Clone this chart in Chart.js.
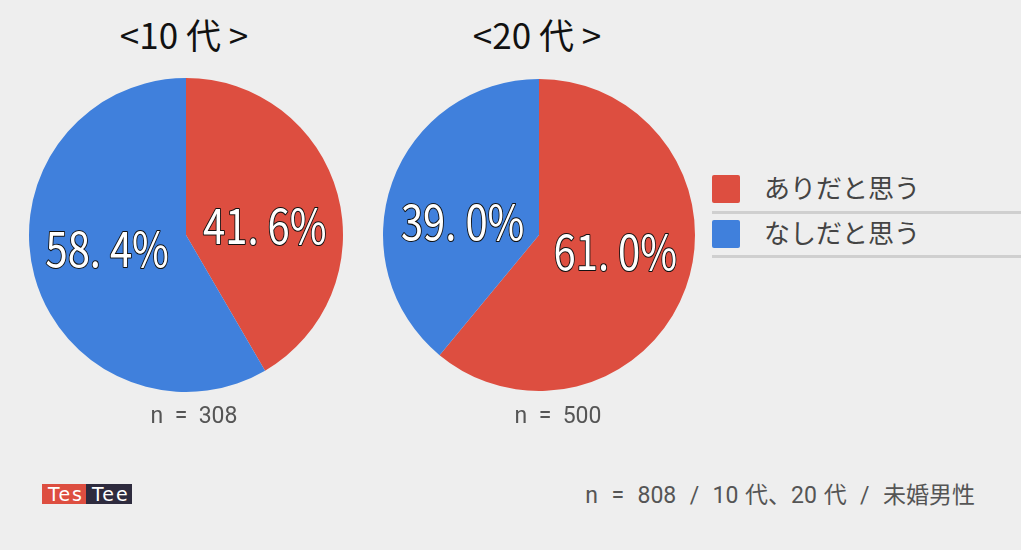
<!DOCTYPE html>
<html lang="ja">
<head>
<meta charset="utf-8">
<script src="https://cdn.jsdelivr.net/npm/chart.js@4/dist/chart.umd.min.js"></script>
<style>
  html, body { margin: 0; padding: 0; }
  body {
    width: 1021px; height: 550px; background: #eeeeee; position: relative; overflow: hidden;
    font-family: "Noto Sans CJK JP", "Noto Sans", sans-serif;
  }
  .pie-box { position: absolute; width: 340px; height: 340px; top: 65px; }
  .title { position: absolute; top: 8px; width: 300px; text-align: center; font-size: 35px; color: #111; }
  .nlabel { position: absolute; top: 402px; width: 200px; text-align: center; font-size: 23px; color: #555; font-family: Roboto, "Noto Sans CJK JP", sans-serif; white-space: pre; }
  .legend { position: absolute; left: 712px; top: 172px; width: 309px; }
  .legend-item { position: relative; border-bottom: 3px solid #cfcfcf; }
  .legend-item .sw { position: absolute; left: 0; width: 28px; height: 28px; border-radius: 2px; }
  .legend-item .tx { position: absolute; left: 52px; font-size: 26px; color: #444; }
  .logo { position: absolute; left: 42px; top: 484px; height: 20px; display: flex; font-family: "DejaVu Sans", sans-serif; font-size: 19px; line-height: 20px; color: #fff; letter-spacing: 2px; }
  .logo span { padding: 0 2px 0 6px; }
  .foot { position: absolute; right: 46px; top: 476px; font-size: 23px; color: #555; font-family: Roboto, "Noto Sans CJK JP", sans-serif; white-space: pre; word-spacing: 1px; }
</style>
</head>
<body>
<div class="title" style="left:34px">&lt;10 代 &gt;</div>
<div class="title" style="left:387px">&lt;20 代 &gt;</div>

<div class="pie-box" style="left:16px"><canvas id="pieTeens"></canvas></div>
<div class="pie-box" style="left:369px"><canvas id="pieTwenties"></canvas></div>

<div class="nlabel" style="left:94px">n  =  308</div>
<div class="nlabel" style="left:458px">n  =  500</div>

<div class="legend" id="legend"></div>

<div class="logo"><span style="background:#dd4e40">Tes</span><span style="background:#2e2b3e">Tee</span></div>
<div class="foot">n  =  808  /  10 代、20 代  /  未婚男性</div>

<script>
// カテゴリと各年代の割合(%)
const categories = ["ありだと思う", "なしだと思う"];
const teensValues = [41.6, 58.4];
const twentiesValues = [61.0, 39.0];
const sliceColors = ["#dd4e40", "#4080dc"];

// スライス上のパーセント表示(白文字+黒フチ)
const pctLabelPlugin = {
  id: "pctLabel",
  afterDatasetsDraw(chart) {
    const ctx = chart.ctx;
    const meta = chart.getDatasetMeta(0);
    const values = chart.data.datasets[0].data;
    meta.data.forEach((arc, i) => {
      const p = arc.getProps(["x", "y", "startAngle", "endAngle", "outerRadius"], true);
      const mid = (p.startAngle + p.endAngle) / 2;
      const r = p.outerRadius * 0.52;
      const x = p.x + Math.cos(mid) * r;
      const y = p.y + Math.sin(mid) * r * 0.55;
      const text = values[i].toFixed(1).replace(".", ". ") + "%";
      ctx.save();
      ctx.translate(x, y + 2);
      ctx.scale(0.8, 0.96);
      ctx.font = "50px 'Noto Sans CJK JP'";
      ctx.textAlign = "center";
      ctx.textBaseline = "middle";
      ctx.lineJoin = "round";
      ctx.lineWidth = 2.2;
      ctx.strokeStyle = "#111";
      ctx.strokeText(text, 0, 0);
      ctx.fillStyle = "#fff";
      ctx.fillText(text, 0, 0);
      ctx.restore();
    });
  }
};

function createPie(id, values, pad) {
  const ctx = document.getElementById(id);
  if (!ctx) return;
  new Chart(ctx, {
    type: "pie",
    data: {
      labels: categories,
      datasets: [{
        data: values,
        backgroundColor: sliceColors,
        borderWidth: 0
      }]
    },
    options: {
      responsive: true,
      maintainAspectRatio: false,
      animation: false,
      layout: { padding: pad },
      plugins: {
        legend: { display: false },
        tooltip: { enabled: false }
      }
    },
    plugins: [pctLabelPlugin]
  });
}

// 凡例
function renderLegend() {
  const box = document.getElementById("legend");
  const heights = [39, 41];
  const swTop = [3, 6];
  categories.forEach((c, i) => {
    const item = document.createElement("div");
    item.className = "legend-item";
    item.style.height = heights[i] + "px";
    item.innerHTML = `<div class="sw" style="top:${swTop[i]}px;background:${sliceColors[i]}"></div>` +
      `<div class="tx" style="top:${swTop[i] - 7}px">${c}</div>`;
    box.appendChild(item);
  });
}

window.addEventListener("DOMContentLoaded", () => {
  createPie("pieTeens", teensValues, 13);
  createPie("pieTwenties", twentiesValues, 14);
  renderLegend();
});
</script>
</body>
</html>
